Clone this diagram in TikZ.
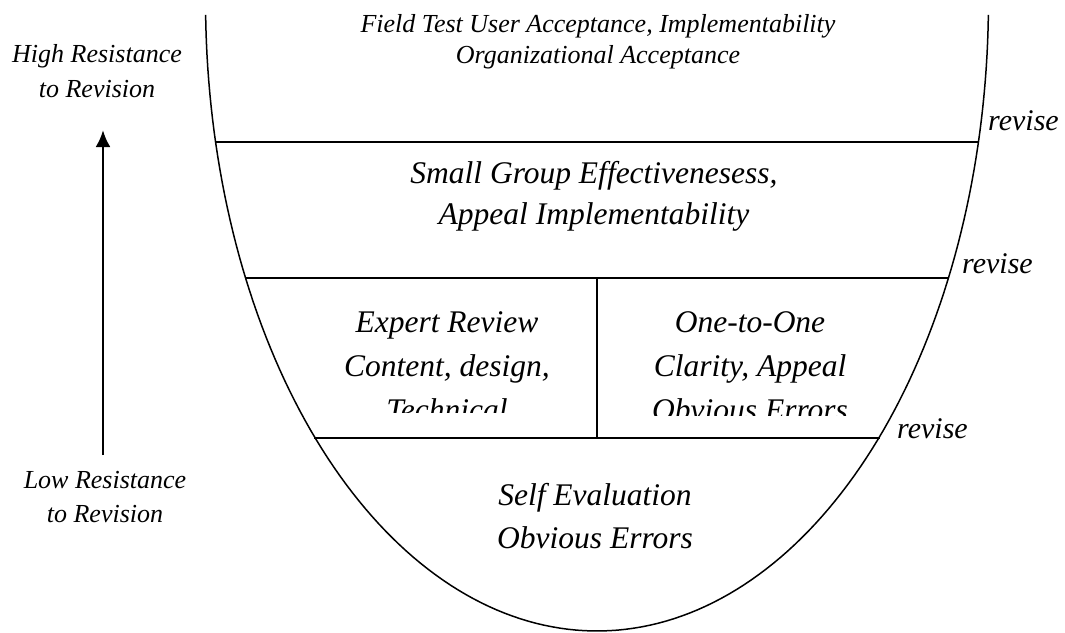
\documentclass[tikz,border=0pt]{standalone}
\usepackage{fontspec}
\setmainfont{Liberation Serif}
\usepackage{tikz}
\usetikzlibrary{arrows.meta}

\newcommand{\stacked}[1]{\begin{tabular}[t]{@{}c@{}}#1\end{tabular}}

\begin{document}
\begin{tikzpicture}[x=1pt,y=-1pt]
    \tikzstyle{small text}=[inner sep=0,anchor=base,font=\itshape\fontsize{26}{34}\selectfont]
    \tikzstyle{big text}=[inner sep=0,anchor=base,font=\itshape\fontsize{31.5}{41}\selectfont]
    \tikzstyle{cell text}=[big text,font=\itshape\fontsize{31.5}{44}\selectfont]
    \tikzstyle{revise text}=[inner sep=0,anchor=base west,font=\itshape\fontsize{30}{36}\selectfont]
    \tikzstyle{rule}=[line width=1.9pt]
    \useasboundingbox (0,0) rectangle (1065,632);

    % bowl
    \draw[line width=1.5pt] plot[domain=1.36:178.64,samples=150]
        ({597+391.5*cos(\x)},{631*sin(\x)});

    % stage boundaries
    \coordinate (l1) at (215.5,142);  \coordinate (r1) at (978.5,142);
    \coordinate (l2) at (245.5,278);  \coordinate (r2) at (948.5,278);
    \coordinate (l3) at (314,438);    \coordinate (r3) at (880,438);
    \coordinate (m2) at (597,278);    \coordinate (m3) at (597,438);
    \draw[rule] (l1) -- (r1);
    \draw[rule] (l2) -- (r2);
    \draw[rule] (l3) -- (r3);
    \draw[rule] (m2) -- (m3);

    % stages
    \node(field)[small text,font=\itshape\fontsize{26}{31}\selectfont] at (598,32)
        {\stacked{Field Test User Acceptance, Implementability\\Organizational Acceptance}};
    \node(group)[big text] at (594,183)
        {\stacked{Small Group Effectivenesess,\\Appeal Implementability}};
    % last lines of the two cells are cut off
    \begin{scope}
        \clip (300,278) rectangle (597,412);
        \node(expert)[cell text] at (447,332)
            {\stacked{Expert Review\\Content, design,\\Technical}};
    \end{scope}
    \begin{scope}
        \clip (597,278) rectangle (900,415);
        \node(one)[cell text] at (750,332)
            {\stacked{One-to-One\\Clarity, Appeal\\Obvious Errors}};
    \end{scope}
    \node(self)[big text,font=\itshape\fontsize{31.5}{43}\selectfont] at (595,505)
        {\stacked{Self Evaluation\\Obvious Errors}};

    % revise marks
    \node(rev1)[revise text] at (988,130) {revise};
    \node(rev2)[revise text] at (962,273) {revise};
    \node(rev3)[revise text] at (897,438) {revise};

    % resistance scale
    \node(high)[small text,font=\itshape\fontsize{26}{35}\selectfont] at (97,62)
        {\stacked{High Resistance\\to Revision}};
    \node(low)[small text] at (105,488)
        {\stacked{Low Resistance\\to Revision}};
    \coordinate (lowend) at (103,455);
    \coordinate (hightip) at (103,130);
    \draw[line width=2.8pt,-{Latex[length=17pt,width=15pt]}] (lowend) -- (hightip);
\end{tikzpicture}
\end{document}
